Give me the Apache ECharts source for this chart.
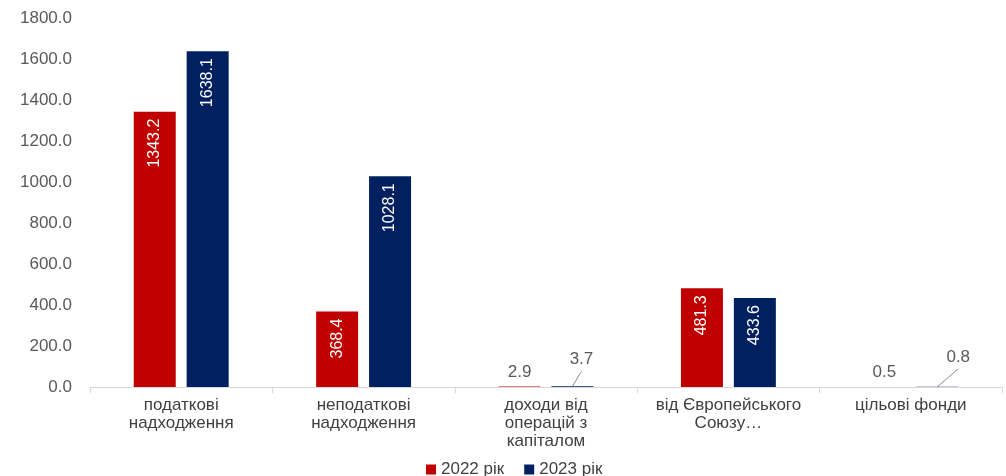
<!DOCTYPE html>
<html>
<head>
<meta charset="utf-8">
<script src="https://cdn.jsdelivr.net/npm/echarts@6/dist/echarts.min.js"></script>
<style>
html, body { margin: 0; padding: 0; background: #fff; }
#chart { width: 1006px; height: 476px; }
</style>
</head>
<body>
<div id="chart"></div>
<script>
var categories = ['податкові\nнадходження', 'неподаткові\nнадходження', 'доходи від\nоперацій з\nкапіталом', 'від Європейського\nСоюзу…', 'цільові фонди'];
var values2022 = [1343.2, 368.4, 2.9, 481.3, 0.5];
var values2023 = [1638.1, 1028.1, 3.7, 433.6, 0.8];
var seriesNames = ['2022 рік', '2023 рік'];
var yTicks = { min: 0, max: 1800, interval: 200 };

var BAR_W = 42;
var BAR_GAP = 0.26;
// shift of the tiny 2023 labels (index -> [dx, dy])
var leaderShift = { 2: [9, -12], 4: [21, -15] };

var chartDom = document.getElementById('chart');
var myChart = echarts.init(chartDom, null, { devicePixelRatio: 1 });

// small values go above the bar, big ones are written inside, rotated
function makeData(arr) {
	return arr.map(function (v) {
		if (v > 50) return v;
		return {
			value: v,
			label: {
				position: 'top',
				rotate: 0,
				align: 'center',
				verticalAlign: 'bottom',
				color: '#595959',
				fontSize: 17,
				distance: 6
			}
		};
	});
}

function barSeries(name, arr, color, leader) {
	var s = {
		name: name,
		type: 'bar',
		barWidth: BAR_W,
		barGap: (BAR_GAP * 100) + '%',
		itemStyle: { color: color },
		data: makeData(arr),
		label: {
			show: true,
			position: 'insideTop',
			rotate: 90,
			align: 'right',
			verticalAlign: 'middle',
			distance: 7,
			color: '#fff',
			fontSize: 16,
			fontFamily: 'Liberation Sans',
			formatter: function (p) { return p.value.toFixed(1); }
		}
	};
	if (leader) {
		s.labelLayout = function (p) {
			var sh = leaderShift[p.dataIndex];
			return sh ? { dx: sh[0], dy: sh[1] } : {};
		};
	}
	return s;
}

var option = {
	animation: false,
	textStyle: { fontFamily: 'Liberation Sans' },
	grid: { left: 90, right: 4, top: 18, bottom: 89 },
	legend: {
		top: 456,
		left: 421,
		icon: 'rect',
		itemWidth: 10,
		itemHeight: 10,
		itemGap: 20,
		textStyle: { fontSize: 17, color: '#404040', fontFamily: 'Liberation Sans' },
		data: seriesNames
	},
	xAxis: {
		type: 'category',
		data: categories,
		axisLine: { lineStyle: { color: '#d9d9d9' } },
		axisTick: { show: true, length: 6, lineStyle: { color: '#d9d9d9' } },
		axisLabel: { fontSize: 17, color: '#404040', lineHeight: 18, margin: 9, interval: 0 }
	},
	yAxis: {
		type: 'value',
		min: yTicks.min,
		max: yTicks.max,
		interval: yTicks.interval,
		splitLine: { show: false },
		axisLine: { show: false },
		axisTick: { show: false },
		axisLabel: {
			fontSize: 17,
			color: '#595959',
			margin: 18,
			formatter: function (v) { return v.toFixed(1); }
		}
	},
	series: [
		barSeries(seriesNames[0], values2022, '#c00000', false),
		barSeries(seriesNames[1], values2023, '#002060', true)
	]
};

option && myChart.setOption(option);

// slanted leader lines from the 2023 bar top to the moved label
var lines = [];
Object.keys(leaderShift).forEach(function (k) {
	var i = +k;
	var pt = myChart.convertToPixel({ xAxisIndex: 0, yAxisIndex: 0 }, [i, values2023[i]]);
	var bx = pt[0] + BAR_W * (1 + BAR_GAP) / 2;
	var by = pt[1];
	var sh = leaderShift[i];
	lines.push({
		type: 'line',
		shape: { x1: bx, y1: by, x2: bx + sh[0], y2: by - 6 + sh[1] + 3 },
		style: { stroke: '#8c8c8c', lineWidth: 1 }
	});
});
myChart.setOption({ graphic: lines });
</script>
</body>
</html>
